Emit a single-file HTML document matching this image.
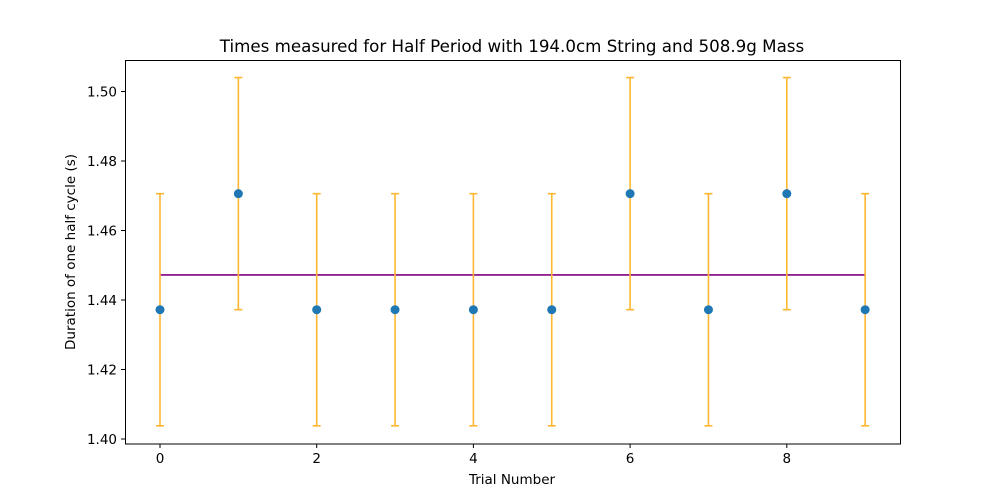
<!DOCTYPE html>
<html><head><meta charset="utf-8"><style>
body{margin:0;background:#fff;}
svg{font-family:"DejaVu Sans","Liberation Sans",sans-serif;}
</style></head><body>
<svg id="chart" width="1000" height="499">
<text x="512" y="52" font-size="16.7" text-anchor="middle">Times measured for Half Period with 194.0cm String and 508.9g Mass</text>
<g id="plot"></g>
<rect x="125.5" y="60.5" width="775" height="383.5" fill="none" stroke="#000" stroke-width="1"/>
<text x="512" y="484" font-size="13.5" text-anchor="middle">Trial Number</text>
<text transform="translate(75,252) rotate(-90)" font-size="13.5" text-anchor="middle">Duration of one half cycle (s)</text>
</svg>
<script>
const trials=[0,1,2,3,4,5,6,7,8,9];
const durations=[1.4372,1.4706,1.4372,1.4372,1.4372,1.4372,1.4706,1.4372,1.4706,1.4372];
const errors=[0.0334,0.0334,0.0334,0.0334,0.0334,0.0334,0.0334,0.0334,0.0334,0.0334];
const meanValue=1.4472;
const xTicks=[0,2,4,6,8];
const yTicks=["1.40","1.42","1.44","1.46","1.48","1.50"];
const NS="http://www.w3.org/2000/svg";
const X=v=>160+v*78.35;
const Y=v=>439-(v-1.40)*3475;
const g=document.getElementById('plot');
function mk(t,a){const e=document.createElementNS(NS,t);for(const k in a)e.setAttribute(k,a[k]);g.appendChild(e);return e;}
xTicks.forEach(t=>{
 const l=mk('line',{x1:X(t),x2:X(t),y1:444,y2:448,stroke:'#000'});
 
 
 const tx=mk('text',{x:X(t),y:463,'font-size':13.5,'text-anchor':'middle'});tx.textContent=t;
 
 
});
yTicks.forEach(t=>{
 const y=Y(parseFloat(t));
 const l=mk('line',{x1:121,x2:125.5,y1:y,y2:y,stroke:'#000'});
 
 
 const tx=mk('text',{x:117,y:y+5,'font-size':13.5,'text-anchor':'end'});tx.textContent=t;
 
 
});
const ml=mk('line',{x1:X(trials[0]),x2:X(trials[trials.length-1]),y1:Y(meanValue),y2:Y(meanValue),stroke:'#800080','stroke-width':1.6});


trials.forEach((t,i)=>{
 const x=X(t),lo=Y(durations[i]-errors[i]),hi=Y(durations[i]+errors[i]);
 const eb=mk('path',{d:`M${x},${lo}V${hi}M${x-4},${lo}H${x+4}M${x-4},${hi}H${x+4}`,stroke:'#ffb733','stroke-width':1.6,fill:'none'});
 
 
});
trials.forEach((t,i)=>{
 const c=mk('circle',{cx:X(t),cy:Y(durations[i]),r:4.5,fill:'#1f77b4'});
 
 
});
</script>
</body></html>
